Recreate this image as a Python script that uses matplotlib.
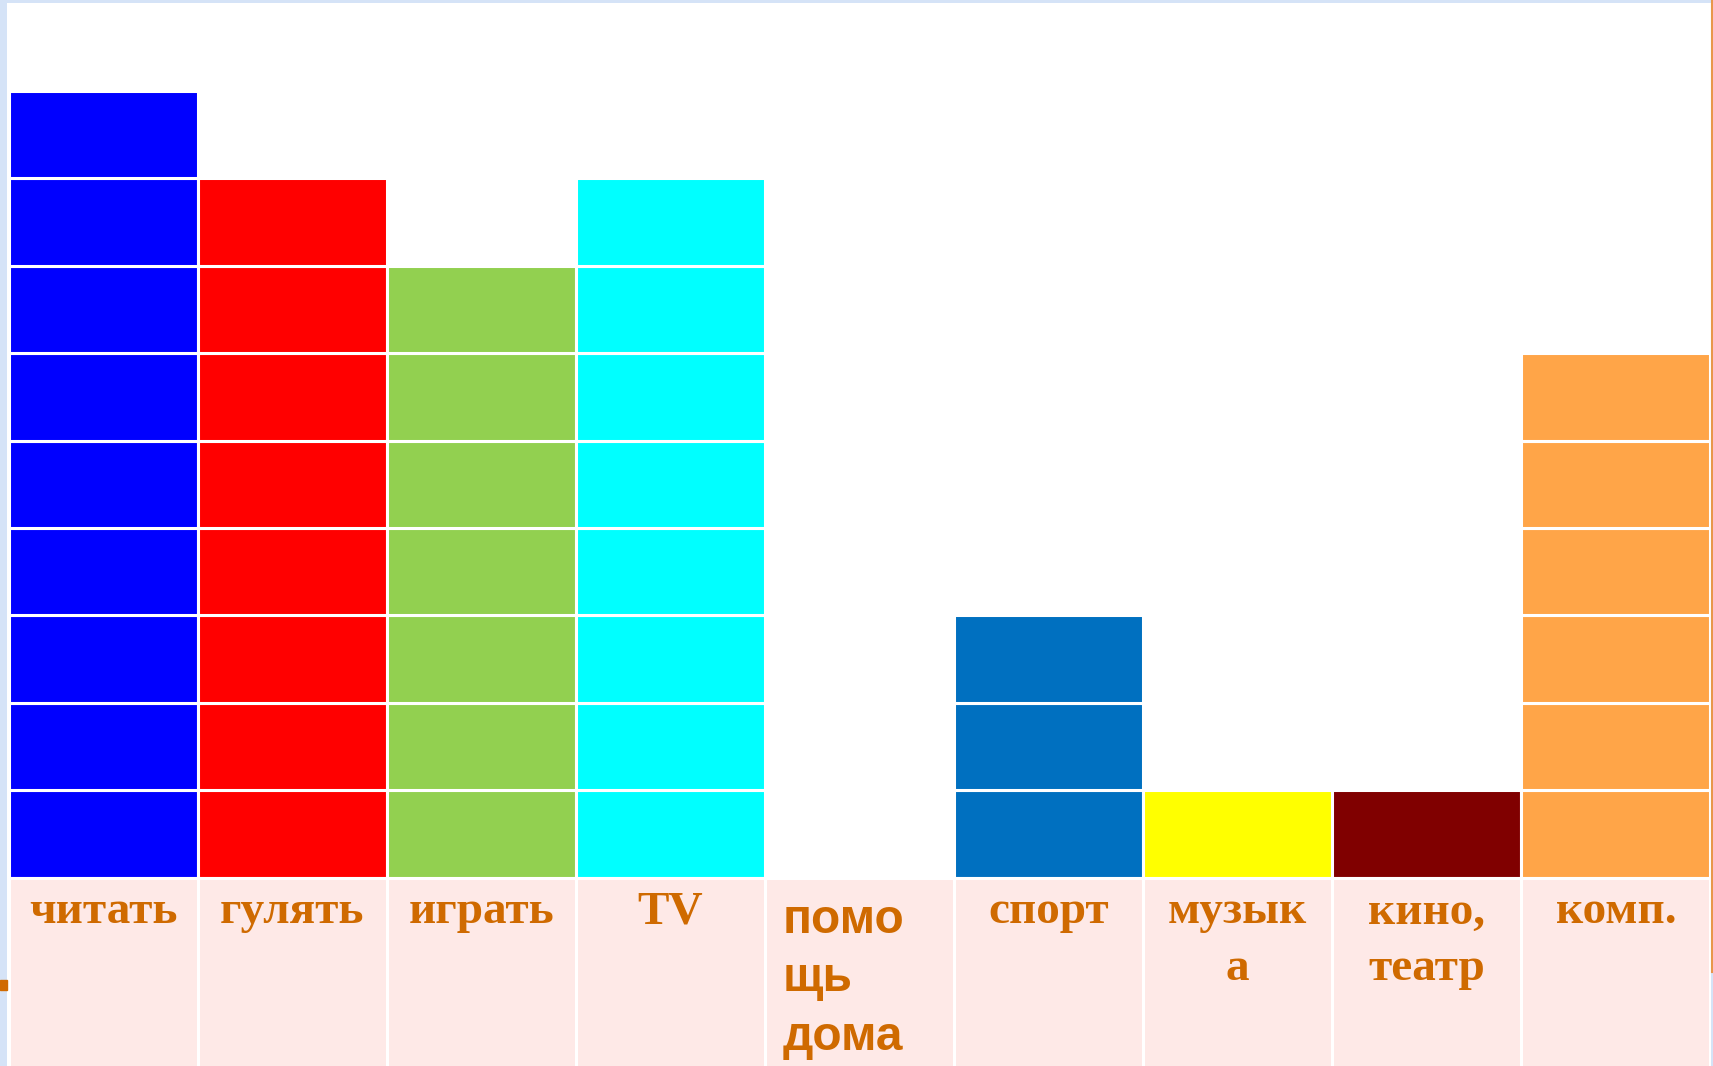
import matplotlib
matplotlib.use('Agg')
import matplotlib.pyplot as plt
from matplotlib.lines import Line2D
from matplotlib.patches import Rectangle

categories = ['читать', 'гулять', 'играть', 'TV', 'помо\nщь\nдома',
              'спорт', 'музык\nа', 'кино,\nтеатр', 'комп.']
values = [9, 8, 7, 8, 0, 3, 1, 1, 6]
colors = ['#0000FF', '#FF0000', '#92D050', '#00FFFF', '#FFFFFF',
          '#0070C0', '#FFFF00', '#800000', '#FFA548']
label_is_sans = [False, False, False, False, True, False, False, False, False]

W, H = 1713, 1066
fig = plt.figure(figsize=(W / 100, H / 100), dpi=100, facecolor='#D5E3F7')
ax = fig.add_axes([7 / W, 0, (1711 - 7) / W, 1063 / H])
ax.set_facecolor('white')

x = list(range(len(categories)))
for level in range(max(values)):
    xs = [i for i, v in zip(x, values) if v > level]
    cs = [c for c, v in zip(colors, values) if v > level]
    ax.bar(xs, [1] * len(xs), width=1, bottom=level, align='edge',
           color=cs, edgecolor='white', linewidth=2.2)

# label row
ax.bar(x, [2.5] * len(x), width=1, bottom=-2.5, align='edge',
       color='#FEE9E7', edgecolor='white', linewidth=2.2)

text_color = '#CF6A00'
for i, (lab, sans) in enumerate(zip(categories, label_is_sans)):
    if sans:
        ax.text(i + 18 / 189, -0.23, lab, ha='left', va='top', fontsize=34.5,
                family=['Liberation Sans', 'DejaVu Sans'], weight='bold',
                color=text_color, linespacing=1.39, multialignment='left')
    else:
        ax.text(i + 0.5, -0.16, lab, ha='center', va='top', fontsize=34,
                family=['Liberation Serif', 'DejaVu Serif'], weight='bold',
                color=text_color, linespacing=1.45, multialignment='center')

ax.set_xlim(-1.5 / 189.1, 9 + 0.5 / 189.1)
ax.set_ylim(-(1066 - 877.5) / 87.4, (877.5 - 3) / 87.4)
for s in ax.spines.values():
    s.set_visible(False)
ax.set_xticks([])
ax.set_yticks([])

# slide decorations
fig.add_artist(Line2D([1712 / W, 1712 / W], [1 - 972 / H, 1], color='#E8964A',
                      lw=1.5, transform=fig.transFigure))
fig.add_artist(Rectangle((0, 1 - 990 / H), 7 / W, 10 / H, color='#D06A00',
                         transform=fig.transFigure))

fig.savefig('out.png', dpi=100, facecolor=fig.get_facecolor())
